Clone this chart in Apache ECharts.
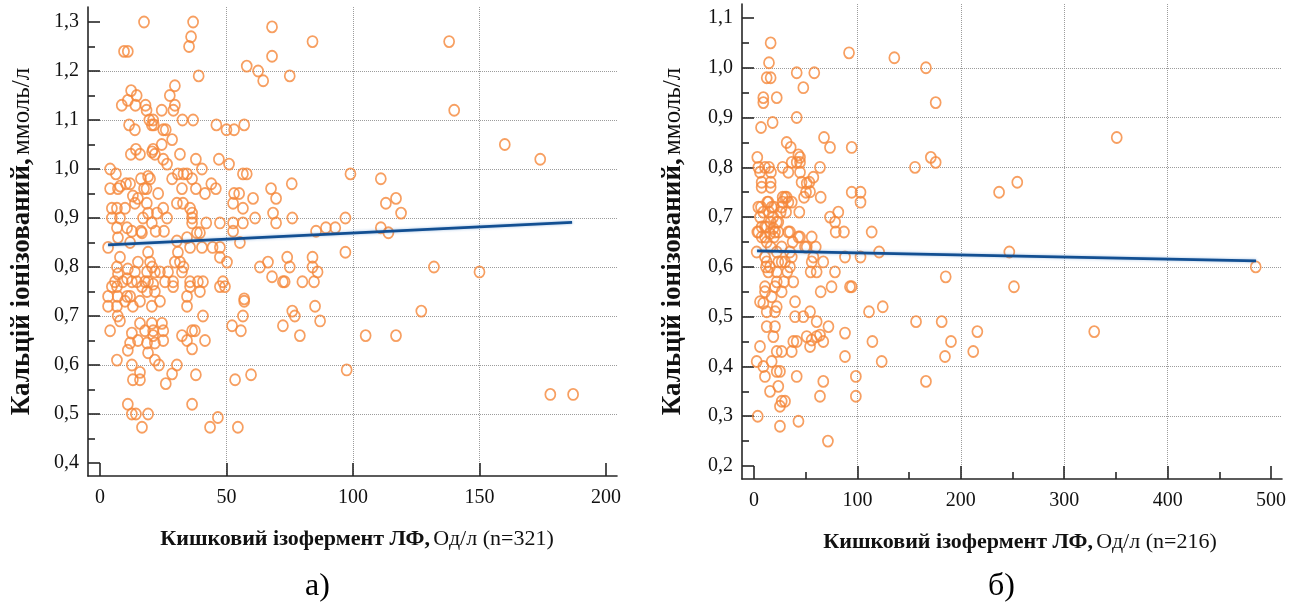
<!DOCTYPE html>
<html>
<head>
<meta charset="utf-8">
<script src="https://cdn.jsdelivr.net/npm/echarts@6/dist/echarts.min.js"></script>
<style>
  html, body { margin: 0; padding: 0; background: #ffffff; }
  #chart { width: 1302px; height: 612px; }
</style>
</head>
<body>
<div id="chart"></div>
<script>
// Panel а): intestinal ALP isoenzyme (U/l) vs ionized calcium (mmol/l), n=321
const leftPoints = [
  [17.4,1.30],[36.8,1.30],[36.0,1.27],[35.2,1.25],[68.0,1.29],[68.0,1.23],[84.0,1.26],[138.0,1.26],
  [9.5,1.24],[11.0,1.24],[58.0,1.21],[62.5,1.20],[64.5,1.18],[75.0,1.19],[39.0,1.19],[12.3,1.16],
  [14.5,1.15],[11.0,1.14],[8.6,1.13],[14.0,1.13],[18.0,1.13],[18.4,1.12],[24.4,1.12],[27.6,1.15],
  [29.6,1.17],[29.6,1.13],[29.0,1.12],[140.0,1.12],[32.6,1.10],[36.8,1.10],[19.5,1.10],[21.0,1.10],
  [20.5,1.09],[21.3,1.09],[11.5,1.09],[13.8,1.08],[25.0,1.08],[26.0,1.08],[46.0,1.09],[50.0,1.08],
  [53.0,1.08],[57.0,1.09],
  [24.4,1.05],[28.5,1.06],[21.0,1.04],[20.6,1.035],[14.2,1.04],[15.8,1.03],[12.2,1.03],[21.7,1.03],
  [25.0,1.02],[26.5,1.01],[31.6,1.03],[37.9,1.02],[40.3,1.00],[47.0,1.02],[51.0,1.01],[160.0,1.05],
  [174.0,1.02],[4.0,1.00],
  [6.3,0.99],[4.0,0.96],[7.1,0.96],[8.0,0.965],[10.3,0.97],[11.9,0.97],[16.2,0.98],[19.0,0.985],
  [19.8,0.98],[17.4,0.96],[18.4,0.96],[28.5,0.98],[30.8,0.99],[33.0,0.99],[34.4,0.99],[32.4,0.96],
  [36.4,0.98],[37.9,0.96],[41.5,0.95],[44.0,0.97],[45.8,0.96],[56.5,0.99],[58.0,0.99],[53.0,0.95],
  [55.0,0.95],[60.5,0.94],[67.6,0.96],[69.6,0.94],[75.8,0.97],[23.0,0.95],[13.0,0.945],[13.8,0.93],
  [15.0,0.94],[18.5,0.93],[30.4,0.93],[32.8,0.93],[35.6,0.92],[36.4,0.91],[56.5,0.92],[52.6,0.93],
  [4.7,0.92],[6.7,0.92],[9.9,0.92],[4.7,0.90],[7.9,0.90],[25.0,0.92],[26.5,0.90],[17.0,0.90],
  [19.0,0.91],[22.5,0.91],[36.4,0.90],[61.3,0.90],[68.4,0.91],[76.0,0.90],[99.0,0.99],[111.0,0.98],
  [113.0,0.93],[117.0,0.94],[119.0,0.91],[97.0,0.90],
  [42.0,0.89],[47.4,0.89],[52.6,0.89],[56.5,0.89],[69.6,0.89],[20.5,0.89],[6.7,0.88],[7.1,0.86],
  [10.7,0.88],[12.6,0.873],[16.2,0.873],[16.6,0.87],[22.0,0.873],[25.3,0.873],[11.9,0.85],[3.2,0.84],
  [30.4,0.853],[35.6,0.84],[38.3,0.87],[39.5,0.87],[40.3,0.84],[44.5,0.84],[47.4,0.84],[52.6,0.873],
  [55.3,0.85],[85.4,0.873],[89.3,0.88],[93.0,0.88],[111.0,0.88],[114.0,0.87],[34.4,0.86],[36.4,0.89],
  [7.9,0.82],[6.7,0.80],[7.1,0.786],[11.0,0.796],[15.0,0.81],[13.8,0.79],[19.0,0.83],[19.8,0.81],
  [20.6,0.80],[18.6,0.79],[21.7,0.79],[23.7,0.79],[26.9,0.79],[30.8,0.83],[29.6,0.81],[31.6,0.81],
  [32.4,0.79],[33.0,0.80],[47.4,0.82],[50.2,0.81],[63.2,0.80],[66.4,0.81],[74.0,0.82],[75.0,0.80],
  [84.0,0.82],[84.0,0.80],[97.0,0.83],[132.0,0.80],
  [12.6,0.77],[17.8,0.77],[21.0,0.765],[25.7,0.77],[28.9,0.77],[35.6,0.77],[38.7,0.77],[40.7,0.77],
  [48.6,0.77],[68.0,0.78],[73.0,0.77],[80.0,0.77],[84.6,0.77],[86.0,0.79],[150.0,0.79],[57.0,0.735],
  [3.2,0.74],[3.2,0.72],[7.0,0.74],[6.7,0.72],[7.0,0.70],[7.9,0.69],[10.7,0.74],[11.9,0.74],
  [13.0,0.72],[9.9,0.73],[15.8,0.73],[20.5,0.72],[23.7,0.73],[10.7,0.776],[14.6,0.77],[34.4,0.74],
  [34.4,0.72],[35.6,0.76],[39.5,0.75],[40.7,0.70],[56.5,0.70],[57.0,0.73],[49.4,0.76],[47.4,0.76],
  [28.9,0.76],[72.3,0.77],[76.0,0.71],[77.0,0.70],[85.0,0.72],[87.0,0.69],[127.0,0.71],[6.7,0.76],
  [4.7,0.76],[5.9,0.77],[9.0,0.77],[16.6,0.76],[18.6,0.75],[19.0,0.77],[21.7,0.75],
  [4.0,0.67],[6.7,0.61],[15.8,0.685],[17.8,0.67],[20.5,0.685],[21.0,0.67],[24.5,0.685],[25.0,0.67],
  [25.0,0.65],[12.6,0.665],[11.9,0.645],[11.0,0.63],[15.0,0.65],[18.6,0.645],[19.0,0.625],[21.7,0.645],
  [21.0,0.66],[21.7,0.61],[23.3,0.60],[12.6,0.60],[32.4,0.66],[34.4,0.65],[36.4,0.67],[37.5,0.67],
  [36.4,0.633],[41.5,0.65],[52.2,0.68],[55.7,0.67],[72.3,0.68],[79.0,0.66],[105.0,0.66],[117.0,0.66],
  [30.4,0.60],
  [13.0,0.57],[15.8,0.57],[15.8,0.585],[26.0,0.562],[28.5,0.582],[11.0,0.52],[12.6,0.50],[14.2,0.50],
  [19.0,0.50],[16.6,0.473],[37.9,0.58],[36.4,0.52],[43.5,0.473],[46.6,0.493],[54.5,0.473],[53.4,0.57],
  [59.7,0.58],[97.5,0.59],[178.0,0.54],[187.0,0.54]
];

// Panel б): same variables, n=216
const rightPoints = [
  [16.1,1.05],[14.5,1.01],[12.3,0.98],[16.1,0.98],[9.0,0.94],[9.0,0.93],[22.0,0.94],[6.8,0.88],
  [18.0,0.89],[41.3,0.99],[47.7,0.96],[58.3,0.99],[41.3,0.90],[91.9,1.03],[135.7,1.02],[166.3,1.00],
  [175.7,0.93],[67.7,0.86],[73.5,0.84],[94.5,0.84],[171.0,0.82],[175.7,0.81],[155.7,0.80],[350.8,0.86],
  [254.6,0.77],[237.0,0.75],
  [3.2,0.82],[4.2,0.80],[5.8,0.79],[10.6,0.80],[14.5,0.80],[16.4,0.79],[16.1,0.77],[16.1,0.76],
  [7.4,0.77],[7.4,0.76],[63.8,0.80],[57.4,0.78],[53.5,0.77],[50.3,0.75],[48.4,0.74],[44.5,0.82],
  [44.5,0.81],[44.5,0.79],[46.0,0.77],[35.5,0.84],[31.6,0.85],[36.5,0.81],[33.2,0.79],[27.7,0.80],
  [41.3,0.81],[103.0,0.75],[103.0,0.73],[94.5,0.75],[64.5,0.74],[36.5,0.73],[43.8,0.71],[31.0,0.71],
  [26.8,0.72],[31.6,0.74],[27.7,0.74],[6.8,0.72],[12.9,0.73],[14.5,0.71],[19.3,0.72],[18.6,0.70],
  [5.8,0.70],[25.8,0.71],[27.7,0.73],[73.5,0.70],[81.5,0.71],[42.9,0.825],[51.0,0.768],[54.2,0.751],
  [4.2,0.72],[9.0,0.71],[13.9,0.73],[17.1,0.72],[22.0,0.69],[30.0,0.74],[33.2,0.73],
  [7.4,0.68],[3.2,0.67],[10.6,0.68],[16.1,0.69],[20.3,0.67],[23.5,0.67],[23.5,0.69],[7.4,0.66],
  [10.6,0.66],[12.3,0.65],[19.3,0.66],[16.1,0.64],[26.8,0.64],[22.0,0.63],[2.6,0.63],[34.8,0.67],
  [37.4,0.65],[44.5,0.66],[49.3,0.64],[55.8,0.66],[59.7,0.64],[57.4,0.62],[55.8,0.61],[60.6,0.59],
  [54.8,0.59],[79.0,0.67],[87.0,0.67],[78.4,0.69],[113.8,0.67],[121.0,0.63],[103.0,0.62],[88.0,0.62],
  [67.0,0.61],[78.3,0.59],[12.3,0.61],[11.6,0.60],[13.8,0.59],[23.5,0.61],[34.8,0.63],[36.5,0.62],
  [30.0,0.61],[34.8,0.60],[32.2,0.59],[22.0,0.59],[4.2,0.67],[12.3,0.68],[15.5,0.667],[18.7,0.677],
  [33.2,0.67],[42.9,0.66],[51.0,0.64],[246.9,0.63],[485.2,0.60],[185.4,0.58],[10.6,0.62],[15.5,0.60],
  [26.8,0.61],
  [75.0,0.56],[92.8,0.56],[94.5,0.56],[64.5,0.55],[39.7,0.53],[38.0,0.57],[10.6,0.56],[20.3,0.56],
  [22.0,0.57],[29.0,0.57],[26.8,0.55],[17.1,0.54],[10.6,0.55],[251.4,0.56],[5.8,0.53],[9.0,0.527],
  [12.3,0.51],[20.3,0.51],[22.0,0.52],[39.7,0.50],[47.7,0.50],[54.2,0.51],[111.2,0.51],[124.5,0.52],
  [60.6,0.49],[72.0,0.48],[12.3,0.48],[20.3,0.48],[18.7,0.46],[5.8,0.44],[51.0,0.46],[55.8,0.453],
  [60.6,0.46],[63.8,0.463],[67.0,0.45],[54.2,0.44],[38.0,0.45],[41.3,0.45],[36.5,0.43],[26.8,0.43],
  [22.0,0.43],[114.5,0.45],[88.0,0.42],[88.0,0.467],[123.5,0.41],[156.7,0.49],[181.5,0.49],[190.5,0.45],
  [184.7,0.42],[212.0,0.43],[216.0,0.47],[329.0,0.47],[2.6,0.41],[9.0,0.40],[17.1,0.41],[22.0,0.39],
  [25.1,0.39],
  [10.6,0.38],[23.5,0.36],[15.5,0.35],[41.3,0.38],[67.0,0.37],[63.8,0.34],[98.5,0.38],[98.5,0.34],
  [25.1,0.32],[26.8,0.33],[30.0,0.33],[3.6,0.30],[25.1,0.28],[43.0,0.29],[71.5,0.25],[166.3,0.37]
];

// Fitted linear trends (end points)
const leftTrend = [[3.2, 0.845], [186.6, 0.891]];
const rightTrend = [[3.0, 0.632], [485.5, 0.612]];

// Tick values
const leftXTicks = [0, 50, 100, 150, 200];
const leftYTicks = [0.4, 0.5, 0.6, 0.7, 0.8, 0.9, 1.0, 1.1, 1.2, 1.3];
const leftYMinor = [0.45, 0.55, 0.65, 0.75, 0.85, 0.95, 1.05, 1.15, 1.25];
const rightXTicks = [0, 100, 200, 300, 400, 500];
const rightXMinor = [50, 150, 250, 350, 450];
const rightYTicks = [0.2, 0.3, 0.4, 0.5, 0.6, 0.7, 0.8, 0.9, 1.0, 1.1];
const rightYMinor = [0.25, 0.35, 0.45, 0.55, 0.65, 0.75, 0.85, 0.95, 1.05];

const yTitleBold = 'Кальцій іонізований,';
const yTitleUnit = 'ммоль/л';
const xTitleBold = 'Кишковий ізофермент ЛФ,';
const xTitleUnitLeft = 'Од/л (n=321)';
const xTitleUnitRight = 'Од/л (n=216)';
const captions = ['а)', 'б)'];

const SERIF = '"Liberation Serif", "Times New Roman", serif';
const AXIS_COLOR = '#262626';
const GRID_COLOR = '#9c9c9c';
const POINT_COLOR = '#f5873a';
const TREND_COLOR = '#124f92';

const comma = v => v.toFixed(1).replace('.', ',');

const xNameRich = {
  b: { fontFamily: SERIF, fontWeight: 'bold', fontSize: 22, color: '#111' },
  n: { fontFamily: SERIF, fontWeight: 'normal', fontSize: 22, color: '#111' }
};
const yNameRich = {
  b: { fontFamily: SERIF, fontWeight: 'bold', fontSize: 27, color: '#111' },
  n: { fontFamily: SERIF, fontWeight: 'normal', fontSize: 25, color: '#111' }
};

function mainX(gridIndex, min, max, ticks, step, unit, gap, shift) {
  return {
    type: 'value', gridIndex, min, max, minInterval: step, maxInterval: step,
    name: '{b|' + xTitleBold + '} {n|' + unit + '}',
    nameLocation: 'middle', nameGap: gap,
    nameTextStyle: { rich: xNameRich, padding: [0, 0, 0, shift * 2] },
    axisLine: { show: true, onZero: false, lineStyle: { color: AXIS_COLOR, width: 1.6 } },
    axisTick: { show: true, inside: true, length: 13, customValues: ticks,
      lineStyle: { color: AXIS_COLOR, width: 1.6 } },
    axisLabel: { customValues: ticks, margin: 12, fontFamily: SERIF, fontSize: 20, color: '#111',
      formatter: v => String(Math.round(v)) },
    splitLine: { show: true, showMinLine: false, showMaxLine: false,
      lineStyle: { type: 'dotted', color: GRID_COLOR, width: 1 } }
  };
}

function minorAxis(gridIndex, min, max, ticks, position) {
  return {
    type: 'value', gridIndex, min, max, position,
    axisLine: { show: false, onZero: false },
    axisTick: { show: true, inside: true, length: 7, customValues: ticks,
      lineStyle: { color: AXIS_COLOR, width: 1.6 } },
    axisLabel: { show: false },
    splitLine: { show: false }
  };
}

function mainY(gridIndex, min, max, ticks, gap) {
  return {
    type: 'value', gridIndex, min, max, minInterval: 0.1, maxInterval: 0.1,
    name: '{b|' + yTitleBold + '} {n|' + yTitleUnit + '}',
    nameLocation: 'middle', nameGap: gap, nameRotate: 90,
    nameTextStyle: { rich: yNameRich },
    axisLine: { show: true, onZero: false, lineStyle: { color: AXIS_COLOR, width: 1.6 } },
    axisTick: { show: true, inside: true, length: 12, customValues: ticks,
      lineStyle: { color: AXIS_COLOR, width: 1.6 } },
    axisLabel: { customValues: ticks, margin: 9, fontFamily: SERIF, fontSize: 20, color: '#111',
      formatter: comma },
    splitLine: { show: true, showMinLine: false, showMaxLine: false,
      lineStyle: { type: 'dotted', color: GRID_COLOR, width: 1 } }
  };
}

function scatter(data, xi, yi) {
  return {
    type: 'scatter', xAxisIndex: xi, yAxisIndex: yi, data,
    symbol: 'circle', symbolSize: [10, 11], z: 2,
    itemStyle: { color: 'rgba(255,255,255,0)', borderColor: POINT_COLOR, borderWidth: 1.8 },
    emphasis: { disabled: true }
  };
}

function trend(data, xi, yi) {
  return {
    type: 'line', xAxisIndex: xi, yAxisIndex: yi, data, z: 3,
    symbol: 'none', silent: true,
    lineStyle: { color: TREND_COLOR, width: 2.8, shadowColor: 'rgba(40,110,190,0.45)', shadowBlur: 3 }
  };
}

const chart = echarts.init(document.getElementById('chart'), null, { renderer: 'canvas' });
chart.setOption({
  backgroundColor: '#ffffff',
  animation: false,
  title: [
    { text: captions[0], left: 300, top: 566,
      textStyle: { fontFamily: SERIF, fontSize: 32, fontWeight: 'normal', color: '#000' } },
    { text: captions[1], left: 983, top: 566,
      textStyle: { fontFamily: SERIF, fontSize: 32, fontWeight: 'normal', color: '#000' } }
  ],
  grid: [
    { left: 88, top: 7, width: 529, height: 469 },
    { left: 742, top: 4, width: 540, height: 475 }
  ],
  xAxis: [
    mainX(0, -4.74, 204.35, leftXTicks, 50, xTitleUnitLeft, 52, 4.5),
    mainX(1, -11.6, 510.6, rightXTicks, 100, xTitleUnitRight, 52, 8),
    minorAxis(1, -11.6, 510.6, rightXMinor, 'bottom')
  ],
  yAxis: [
    mainY(0, 0.3735, 1.3306, leftYTicks, 52),
    minorAxis(0, 0.3735, 1.3306, leftYMinor, 'left'),
    mainY(1, 0.1739, 1.1281, rightYTicks, 55),
    minorAxis(1, 0.1739, 1.1281, rightYMinor, 'left')
  ],
  series: [
    scatter(leftPoints, 0, 0),
    trend(leftTrend, 0, 0),
    scatter(rightPoints, 1, 2),
    trend(rightTrend, 1, 2)
  ]
});
</script>
</body>
</html>
